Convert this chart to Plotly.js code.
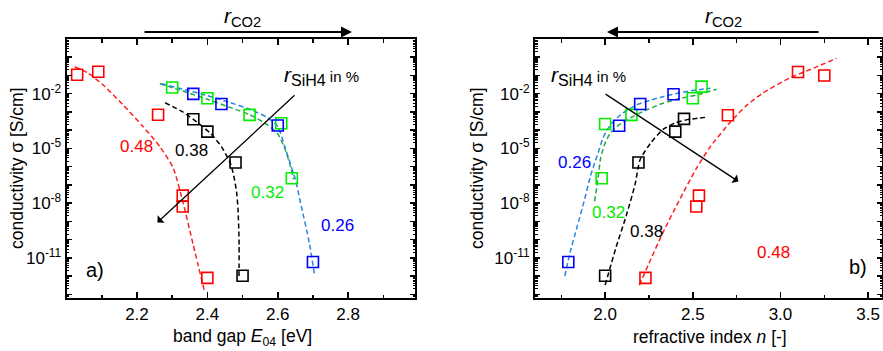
<!DOCTYPE html>
<html>
<head>
<meta charset="utf-8">
<script src="https://cdn.plot.ly/plotly-3.0.1.min.js"></script>
<style>html,body{margin:0;padding:0;background:#fff;}#chart{width:883px;height:351px;}</style>
</head>
<body>
<div id="chart"></div>
<script>
// ---------- data: panel a) band gap E04 [eV] vs conductivity [S/cm] ----------
const aRedX   = [2.03, 2.09, 2.26, 2.33, 2.33, 2.40];
const aRedY   = [1.1e-1, 1.6e-1, 7e-4, 2.6e-8, 6.6e-9, 8e-13];
const aBlackX = [2.36, 2.40, 2.48, 2.50];
const aBlackY = [4e-4, 8.3e-5, 1.7e-6, 1.05e-12];
const aGreenX = [2.30, 2.40, 2.52, 2.61, 2.64];
const aGreenY = [2.2e-2, 5.6e-3, 6.9e-4, 2.4e-4, 2.3e-7];
const aBlueX  = [2.36, 2.44, 2.60, 2.70];
const aBlueY  = [9.8e-3, 2.75e-3, 1.8e-4, 5.9e-12];

const aRedFitX   = [2.023, 2.06, 2.10, 2.16, 2.217, 2.265, 2.303, 2.33, 2.36, 2.393];
const aRedFitY   = [3.0e-1, 1.4e-1, 3.5e-2, 2.5e-3, 1.6e-4, 1.26e-5, 8.3e-7, 1.26e-8, 5e-11, 1.2e-13];
const aBlackFitX = [2.28, 2.33, 2.37, 2.41, 2.44, 2.465, 2.475, 2.483, 2.487, 2.49, 2.49];
const aBlackFitY = [3.2e-3, 1e-3, 2.8e-4, 6.3e-5, 1.26e-5, 1.6e-6, 3.2e-7, 4e-8, 5e-9, 1e-10, 1e-12];
const aGreenFitX = [2.265, 2.33, 2.40, 2.46, 2.52, 2.57, 2.60, 2.62, 2.635, 2.645];
const aGreenFitY = [3.55e-2, 1.4e-2, 5e-3, 1.9e-3, 7.1e-4, 2e-4, 6.3e-5, 1e-5, 1.26e-6, 2e-7];
const aBlueFitX  = [2.27, 2.33, 2.40, 2.46, 2.52, 2.57, 2.60, 2.62, 2.635, 2.65, 2.665, 2.69, 2.705];
const aBlueFitY  = [3.55e-2, 1.78e-2, 7.9e-3, 3.5e-3, 1.4e-3, 5e-4, 1.6e-4, 1.26e-5, 1.6e-6, 2e-7, 1e-8, 6.3e-11, 1e-12];

// ---------- data: panel b) refractive index n vs conductivity ----------
const bRedX   = [3.10, 3.25, 2.70, 2.535, 2.52, 2.23];
const bRedY   = [1.55e-1, 1.0e-1, 6.6e-4, 2.6e-8, 6.6e-9, 8e-13];
const bBlackX = [2.00, 2.19, 2.40, 2.45];
const bBlackY = [1.05e-12, 1.7e-6, 8.3e-5, 4.2e-4];
const bGreenX = [1.98, 2.00, 2.15, 2.50, 2.55];
const bGreenY = [2.3e-7, 2.2e-4, 6.9e-4, 5.6e-3, 2.45e-2];
const bBlueX  = [1.79, 2.08, 2.20, 2.39];
const bBlueY  = [5.9e-12, 1.74e-4, 2.75e-3, 9.3e-3];

const bRedFitX   = [2.195, 2.25, 2.33, 2.42, 2.52, 2.60, 2.71, 2.80, 2.90, 3.05, 3.20, 3.32];
const bRedFitY   = [3.2e-13, 5e-12, 2.5e-10, 1.26e-8, 7.9e-7, 1.26e-5, 2.5e-4, 2e-3, 1.1e-2, 7.1e-2, 2.8e-1, 8.7e-1];
const bBlackFitX = [2.0, 2.06, 2.12, 2.17, 2.2, 2.26, 2.33, 2.40, 2.47, 2.53, 2.58];
const bBlackFitY = [3.2e-13, 3.2e-11, 2e-9, 1e-7, 2.5e-6, 2e-5, 1.1e-4, 2.5e-4, 3.8e-4, 4.5e-4, 5.2e-4];
const bGreenFitX = [1.94, 1.96, 1.975, 2.0, 2.03, 2.08, 2.14, 2.22, 2.33, 2.43, 2.52, 2.636];
const bGreenFitY = [1.26e-8, 2.5e-7, 3.2e-6, 2e-5, 7.1e-5, 2e-4, 4.5e-4, 1.1e-3, 3e-3, 5.6e-3, 8.5e-3, 1.74e-2];
const bBlueFitX  = [1.77, 1.80, 1.84, 1.88, 1.915, 1.94, 1.96, 1.985, 2.01, 2.05, 2.10, 2.18, 2.26, 2.33, 2.42, 2.52, 2.60];
const bBlueFitY  = [1e-12, 2e-11, 5e-10, 1.26e-8, 2.8e-7, 1.6e-6, 5.6e-6, 3.2e-5, 1e-4, 3.2e-4, 8.5e-4, 2.45e-3, 4.5e-3, 6.9e-3, 1.1e-2, 1.6e-2, 2e-2];

// ---------- tick labels ----------
const yTickVals = [1e-13,1e-12,1e-11,1e-10,1e-9,1e-8,1e-7,1e-6,1e-5,1e-4,1e-3,1e-2,1e-1,1e0];
const yTickText = ['','','10<sup>-11</sup>','','','10<sup>-8</sup>','','','10<sup>-5</sup>','','','10<sup>-2</sup>','',''];
const aXTickVals = [2.2, 2.4, 2.6, 2.8];
const aXTickText = ['2.2', '2.4', '2.6', '2.8'];
const bXTickVals = [2.0, 2.5, 3.0, 3.5];
const bXTickText = ['2.0', '2.5', '3.0', '3.5'];
const seriesLabels = ['0.48', '0.38', '0.32', '0.26'];

// ---------- style ----------
const FONT = 'Arial, "Liberation Sans", sans-serif';
const C = {red:'#ff0000', black:'#000000', green:'#00ee00', blue:'#0000ff',
           redFit:'#ff2020', blackFit:'#000000', greenFit:'#22a848', blueFit:'#2a86e0'};
const W = 883, H = 351;
const PX = v => v / W, PY = v => 1 - v / H;

function markers(x, y, col, xa, ya) {
  return {x, y, xaxis:xa, yaxis:ya, mode:'markers', type:'scatter', hoverinfo:'skip',
    marker:{symbol:'square-open', size:11, color:col, line:{width:1.6, color:col}}};
}
function fit(x, y, col, xa, ya) {
  return {x, y, xaxis:xa, yaxis:ya, mode:'lines', type:'scatter', hoverinfo:'skip',
    line:{color:col, width:1.5, dash:'5px,3px', shape:'spline', smoothing:0.6}};
}

const traces = [
  fit(aRedFitX, aRedFitY, C.redFit, 'x', 'y'),
  fit(aBlackFitX, aBlackFitY, C.blackFit, 'x', 'y'),
  fit(aGreenFitX, aGreenFitY, C.greenFit, 'x', 'y'),
  fit(aBlueFitX, aBlueFitY, C.blueFit, 'x', 'y'),
  markers(aRedX, aRedY, C.red, 'x', 'y'),
  markers(aBlackX, aBlackY, C.black, 'x', 'y'),
  markers(aGreenX, aGreenY, C.green, 'x', 'y'),
  markers(aBlueX, aBlueY, C.blue, 'x', 'y'),
  fit(bRedFitX, bRedFitY, C.redFit, 'x2', 'y2'),
  fit(bBlackFitX, bBlackFitY, C.blackFit, 'x2', 'y2'),
  fit(bGreenFitX, bGreenFitY, C.greenFit, 'x2', 'y2'),
  fit(bBlueFitX, bBlueFitY, C.blueFit, 'x2', 'y2'),
  markers(bRedX, bRedY, C.red, 'x2', 'y2'),
  markers(bBlackX, bBlackY, C.black, 'x2', 'y2'),
  markers(bGreenX, bGreenY, C.green, 'x2', 'y2'),
  markers(bBlueX, bBlueY, C.blue, 'x2', 'y2')
];

const axCommon = {showgrid:false, zeroline:false, showline:true, linecolor:'#000', linewidth:2,
  mirror:'allticks', ticks:'inside', tickcolor:'#000', tickwidth:1.5, ticklen:6,
  tickfont:{family:FONT, size:17, color:'#000'}, fixedrange:true};

const yAx = (anchor) => Object.assign({}, axCommon, {
  type:'log', range:[-13.2, 1.0], domain:[PY(298), PY(39)], anchor,
  tickmode:'array', tickvals:yTickVals, ticktext:yTickText, ticklen:5,
  tickfont:{family:FONT, size:17, color:'#000'},
  minor:{ticks:'inside', ticklen:2.5, tickwidth:1, tickcolor:'#000', dtick:'D1'}
});

const layout = {
  width:W, height:H, margin:{l:0, r:0, t:0, b:0},
  paper_bgcolor:'#fff', plot_bgcolor:'#fff', showlegend:false,
  font:{family:FONT, size:16, color:'#000'},
  xaxis: Object.assign({}, axCommon, {range:[2.0, 2.99], domain:[PX(66.6), PX(415)], anchor:'y',
    tickmode:'array', tickvals:aXTickVals, ticktext:aXTickText,
    minor:{ticks:'inside', ticklen:3.5, tickwidth:1.5, tickcolor:'#000', tick0:2.0, dtick:0.1}}),
  yaxis: yAx('x'),
  xaxis2: Object.assign({}, axCommon, {range:[1.6, 3.579], domain:[PX(535), PX(882)], anchor:'y2',
    tickmode:'array', tickvals:bXTickVals, ticktext:bXTickText,
    minor:{ticks:'inside', ticklen:3.5, tickwidth:1.5, tickcolor:'#000', tick0:1.75, dtick:0.25}}),
  yaxis2: yAx('x2'),
  annotations: []
};

const A = layout.annotations;
function txt(text, x, y, size, color, opts) {
  A.push(Object.assign({text, x:PX(x), y:PY(y), xref:'paper', yref:'paper', showarrow:false,
    xanchor:'center', yanchor:'middle', font:{family:FONT, size, color}}, opts || {}));
}
// axis titles
txt('conductivity σ [S/cm]', 17, 168, 17.5, '#000', {textangle:-90});
txt('conductivity σ [S/cm]', 477, 168, 17.5, '#000', {textangle:-90});
txt('band gap <i>E</i><sub>04</sub> [eV]', 242, 337, 17.5, '#000');
txt('refractive index <i>n</i> [-]', 710, 337, 17.5, '#000');
// panel labels
txt('a)', 95, 270, 20, '#000');
txt('b)', 858, 267, 20, '#000');
// series labels panel a
txt(seriesLabels[0], 136, 146, 17, C.red);
txt(seriesLabels[1], 191, 150, 17, C.black);
txt(seriesLabels[2], 267, 192, 17, C.green);
txt(seriesLabels[3], 337, 225, 17, C.blue);
// series labels panel b
txt(seriesLabels[3], 574, 162, 17, C.blue);
txt(seriesLabels[2], 608, 213, 17, C.green);
txt(seriesLabels[1], 646, 232, 17, C.black);
txt(seriesLabels[0], 773, 252, 17, C.red);
// r_SiH4 labels
const rSi = '<i>r</i><sub><span style="font-size:16px">SiH4</span></sub><span style="font-size:15px"> in %</span>';
txt(rSi, 282, 76, 21, '#000', {xanchor:'left'});
txt(rSi, 549, 76, 21, '#000', {xanchor:'left'});
// r_CO2 labels
const rCO = '<i>r</i><sub>CO2</sub>';
txt(rCO, 242, 17, 21, '#000');
txt(rCO, 723, 17, 21, '#000');
// top arrows
A.push({text:'', x:PX(352), y:PY(32), xref:'paper', yref:'paper', showarrow:true,
  ax:143-352, ay:0, axref:'pixel', ayref:'pixel', arrowhead:2, arrowsize:1.1, arrowwidth:2, arrowcolor:'#000', standoff:0});
A.push({text:'', x:PX(607), y:PY(32), xref:'paper', yref:'paper', showarrow:true,
  ax:820-607, ay:0, axref:'pixel', ayref:'pixel', arrowhead:2, arrowsize:1.1, arrowwidth:2, arrowcolor:'#000', standoff:0});
// inner arrows (data coords, log axis in exponent units)
A.push({text:'', x:2.258, y:-9.06, xref:'x', yref:'y', ax:2.652, ay:-2.01, axref:'x', ayref:'y',
  showarrow:true, arrowhead:1, arrowsize:1.3, arrowwidth:1.3, arrowcolor:'#000', standoff:0});
A.push({text:'', x:2.76, y:-6.81, xref:'x2', yref:'y2', ax:1.994, ay:-1.97, axref:'x2', ayref:'y2',
  showarrow:true, arrowhead:1, arrowsize:1.3, arrowwidth:1.3, arrowcolor:'#000', standoff:0});

Plotly.newPlot('chart', traces, layout, {staticPlot:true, displayModeBar:false});
</script>
</body>
</html>
